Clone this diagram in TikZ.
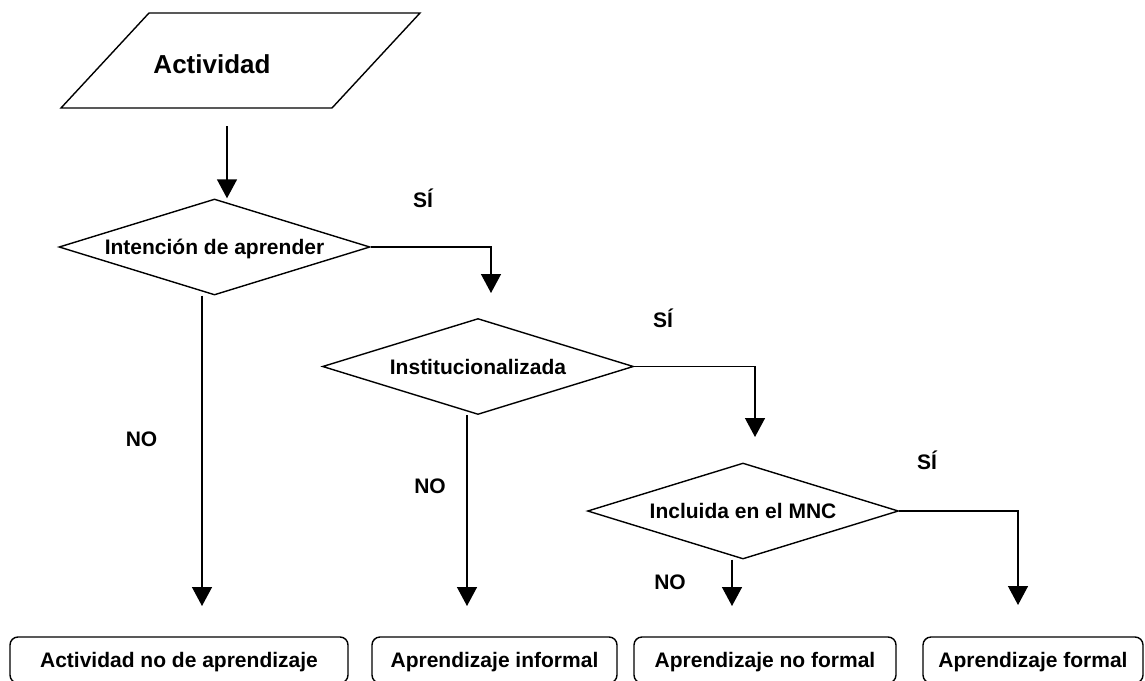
\documentclass[tikz,border=0pt]{standalone}
\usepackage{fontspec}
\setmainfont{Liberation Sans}
\usetikzlibrary{shapes.geometric,arrows.meta}
\begin{document}
\begin{tikzpicture}[x=1pt,y=-1pt,
  line width=1.4pt,
  txt/.style={font=\bfseries\fontsize{21}{25}\selectfont, inner sep=0pt, text height=15pt, text depth=0pt},
  dec/.style={diamond, draw, txt, aspect=3.2, minimum width=311pt, minimum height=96pt},
  endbox/.style={draw, rounded corners=8pt, txt, minimum height=46pt},
  arr/.style={-{Triangle[width=20pt,length=19pt]}},
  lbl/.style={txt}]
\path[use as bounding box] (0,0) rectangle (1145,680);
\clip (0,0) rectangle (1145,680);

% input parallelogram
\draw (149,13) -- (420,13) -- (332,108) -- (61,108) -- cycle;
\node[txt, font=\bfseries\fontsize{26}{30}\selectfont, text height=18.6pt] (act) at (212,64) {Actividad};
\coordinate (actout) at (227,126);

% decisions
\node[dec] (d1) at (214.5,247) {Intención de aprender};
\node[dec] (d2) at (478,366.5) {Institucionalizada};
\node[dec] (d3) at (743,511) {Incluida en el MNC};

% results
\node[endbox, minimum width=338pt] (b1) at (179,660) {Actividad no de aprendizaje};
\node[endbox, minimum width=245pt] (b2) at (494.5,660) {Aprendizaje informal};
\node[endbox, minimum width=262pt] (b3) at (765,660) {Aprendizaje no formal};
\node[endbox, minimum width=220pt] (b4) at (1033,660) {Aprendizaje formal};

% arrow end points
\coordinate (e1) at (491,293);
\coordinate (e2) at (755,437);
\coordinate (e3) at (1018,605);
\coordinate (t1) at (202,606);
\coordinate (t2) at (467,606);
\coordinate (t3) at (732,606);

% connectors
\draw[arr] (actout) -- (actout |- d1.north);
\draw[arr] (d1.east) -| (e1);
\draw[arr] (d2.east) -| (e2);
\draw[arr] (d3.east) -| (e3);
\draw[arr] (d1.south -| t1) -- (t1);
\draw[arr] (d2.south -| t2) -- (t2);
\draw[arr] (d3.south -| t3) -- (t3);

% labels
\node[lbl] (si1) at (423,200) {SÍ};
\node[lbl] (si2) at (663,320) {SÍ};
\node[lbl] (si3) at (927,462) {SÍ};
\node[lbl] (no1) at (141.5,439) {NO};
\node[lbl] (no2) at (430,486) {NO};
\node[lbl] (no3) at (670,582) {NO};
\end{tikzpicture}
\end{document}
